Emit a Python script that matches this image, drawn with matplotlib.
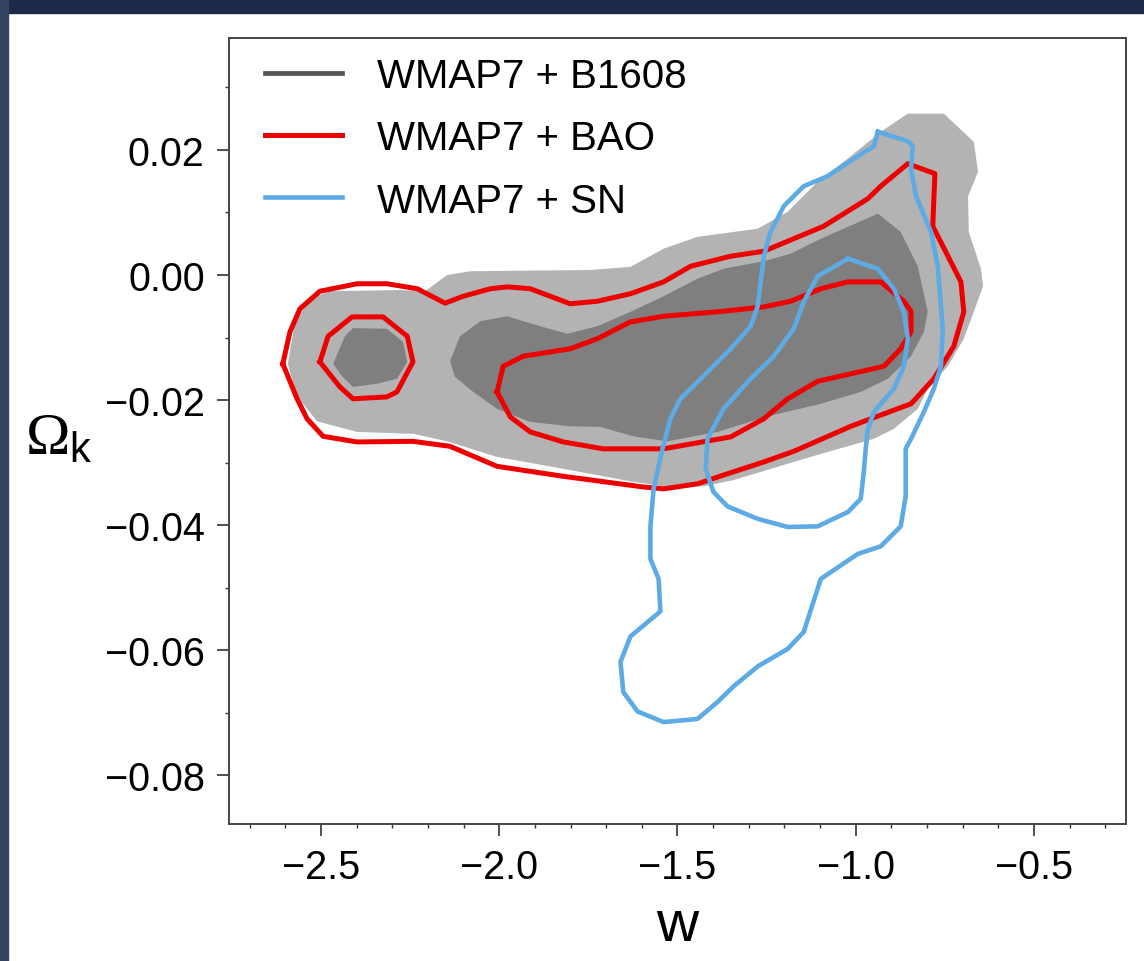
import numpy as np
import matplotlib.pyplot as plt
from matplotlib.patches import Rectangle

plt.rcParams['font.family'] = ['Liberation Sans', 'DejaVu Sans']
plt.rcParams['mathtext.fontset'] = 'custom'
plt.rcParams['mathtext.rm'] = 'Liberation Serif'
plt.rcParams['mathtext.sf'] = 'Liberation Sans'
plt.rcParams['mathtext.it'] = 'Liberation Serif:italic'

# WMAP7 + B1608, 95% region (light grey)
b1608_95_w = [-2.593, -2.573, -2.531, -2.475, -2.278, -2.208, -2.146, -2.081, -1.744, -1.632,
              -1.539, -1.444, -1.275, -1.191, -1.107, -1.014, -0.930, -0.854, -0.753, -0.669,
              -0.657, -0.685, -0.683, -0.649, -0.643, -0.669, -0.697, -0.742, -0.798, -0.826,
              -0.893, -0.949, -1.079, -1.174, -1.267, -1.343, -1.427, -1.539, -1.632, -1.820,
              -2.006, -2.146, -2.242, -2.399, -2.511, -2.567]
b1608_95_ok = [-0.0142, -0.0075, -0.0038, -0.0026, -0.0024, -0.0026, 0.0000, 0.0006, 0.0008, 0.0013,
               0.0042, 0.0061, 0.0074, 0.0101, 0.0149, 0.0190, 0.0229, 0.0258, 0.0258, 0.0213,
               0.0165, 0.0126, 0.0069, 0.0010, -0.0018, -0.0059, -0.0102, -0.0146, -0.0182, -0.0214,
               -0.0246, -0.0262, -0.0283, -0.0299, -0.0315, -0.0328, -0.0338, -0.0338, -0.0330, -0.0310,
               -0.0291, -0.0266, -0.0254, -0.0251, -0.0234, -0.0194]

# WMAP7 + B1608, 68% region (dark grey), main lobe and small left lobe
b1608_68_w = [-2.138, -2.110, -2.053, -1.978, -1.885, -1.809, -1.725, -1.632, -1.539, -1.444,
              -1.371, -1.258, -1.183, -1.098, -0.938, -0.874, -0.826, -0.798, -0.809, -0.845,
              -0.910, -0.986, -1.098, -1.247, -1.388, -1.528, -1.624, -1.716, -1.801, -1.913,
              -2.006, -2.073, -2.124]
b1608_68_ok = [-0.0138, -0.0098, -0.0074, -0.0066, -0.0082, -0.0094, -0.0082, -0.0059, -0.0034, -0.0006,
               0.0010, 0.0022, 0.0034, 0.0058, 0.0098, 0.0069, 0.0014, -0.0059, -0.0091, -0.0130,
               -0.0166, -0.0187, -0.0206, -0.0226, -0.0251, -0.0266, -0.0258, -0.0243, -0.0242, -0.0235,
               -0.0214, -0.0187, -0.0163]
b1608_68b_w = [-2.466, -2.433, -2.410, -2.315, -2.270, -2.258, -2.287, -2.343, -2.410, -2.441]
b1608_68b_ok = [-0.0142, -0.0098, -0.0085, -0.0086, -0.0107, -0.0139, -0.0166, -0.0174, -0.0179, -0.0162]

# WMAP7 + BAO contours (red)
bao_95_w = [-2.607, -2.587, -2.559, -2.503, -2.399, -2.315, -2.230, -2.152, -2.101, -2.025,
            -1.978, -1.913, -1.801, -1.725, -1.632, -1.539, -1.463, -1.351, -1.258, -1.174,
            -1.090, -0.966, -0.930, -0.854, -0.778, -0.784, -0.705, -0.697, -0.725, -0.781,
            -0.845, -0.958, -1.014, -1.174, -1.258, -1.371, -1.444, -1.539, -1.596, -1.820,
            -2.006, -2.138, -2.242, -2.399, -2.494, -2.539, -2.567]
bao_95_ok = [-0.0142, -0.0091, -0.0054, -0.0026, -0.0014, -0.0014, -0.0022, -0.0045, -0.0034, -0.0022,
             -0.0019, -0.0022, -0.0046, -0.0042, -0.0030, -0.0011, 0.0014, 0.0030, 0.0038, 0.0058,
             0.0078, 0.0122, 0.0142, 0.0178, 0.0162, 0.0078, -0.0011, -0.0059, -0.0114, -0.0166,
             -0.0206, -0.0230, -0.0242, -0.0282, -0.0299, -0.0320, -0.0334, -0.0342, -0.0339, -0.0322,
             -0.0306, -0.0274, -0.0266, -0.0267, -0.0258, -0.0230, -0.0198]
bao_68_w = [-2.006, -1.989, -1.933, -1.801, -1.725, -1.632, -1.539, -1.371, -1.258, -1.183,
            -1.098, -1.022, -0.930, -0.865, -0.845, -0.845, -0.874, -0.921, -1.107, -1.191,
            -1.258, -1.351, -1.539, -1.708, -1.820, -1.913, -1.969]
bao_68_ok = [-0.0187, -0.0146, -0.0130, -0.0118, -0.0102, -0.0075, -0.0066, -0.0058, -0.0051, -0.0042,
             -0.0022, -0.0011, -0.0011, -0.0042, -0.0058, -0.0091, -0.0118, -0.0146, -0.0170, -0.0198,
             -0.0230, -0.0259, -0.0278, -0.0278, -0.0267, -0.0251, -0.0227]
bao_68b_w = [-2.503, -2.480, -2.413, -2.326, -2.258, -2.242, -2.287, -2.315, -2.410, -2.447]
bao_68b_ok = [-0.0139, -0.0098, -0.0067, -0.0067, -0.0098, -0.0139, -0.0187, -0.0195, -0.0198, -0.0179]

# WMAP7 + SN contours (blue)
sn_95_w = [-0.938, -0.854, -0.840, -0.845, -0.831, -0.789, -0.770, -0.756, -0.761, -0.781,
           -0.809, -0.845, -0.860, -0.860, -0.874, -0.930, -0.994, -1.098, -1.146, -1.191,
           -1.275, -1.343, -1.388, -1.444, -1.539, -1.612, -1.652, -1.660, -1.632, -1.548,
           -1.553, -1.576, -1.576, -1.567, -1.542, -1.520, -1.492, -1.444, -1.351, -1.295,
           -1.275, -1.258, -1.239, -1.202, -1.146, -1.079, -0.994, -0.949]
sn_95_ok = [0.0229, 0.0214, 0.0206, 0.0170, 0.0126, 0.0069, 0.0014, -0.0086, -0.0146, -0.0182,
            -0.0219, -0.0262, -0.0278, -0.0354, -0.0402, -0.0434, -0.0446, -0.0486, -0.0571, -0.0598,
            -0.0626, -0.0658, -0.0683, -0.0710, -0.0715, -0.0698, -0.0667, -0.0619, -0.0578, -0.0538,
            -0.0486, -0.0454, -0.0402, -0.0342, -0.0278, -0.0230, -0.0198, -0.0171, -0.0118, -0.0082,
            -0.0050, 0.0030, 0.0069, 0.0110, 0.0142, 0.0158, 0.0190, 0.0206]
sn_68_w = [-1.022, -0.938, -0.893, -0.865, -0.854, -0.865, -0.893, -0.949, -0.966, -0.972,
           -0.978, -0.986, -1.022, -1.107, -1.191, -1.275, -1.360, -1.399, -1.421, -1.416,
           -1.371, -1.295, -1.230, -1.174, -1.146, -1.107]
sn_68_ok = [0.0026, 0.0010, -0.0022, -0.0059, -0.0102, -0.0146, -0.0182, -0.0219, -0.0246, -0.0278,
            -0.0318, -0.0358, -0.0379, -0.0402, -0.0403, -0.0390, -0.0370, -0.0347, -0.0310, -0.0262,
            -0.0214, -0.0166, -0.0130, -0.0086, -0.0043, -0.0002]

labels = ['WMAP7 + B1608', 'WMAP7 + BAO', 'WMAP7 + SN']
grey_light, grey_dark = '#b3b3b3', '#7f7f7f'
red, blue = '#ee0000', '#5eaae4'


def closed(w, ok):
    return list(w) + [w[0]], list(ok) + [ok[0]]


fig = plt.figure(figsize=(11.44, 9.62), dpi=100)
# dark frame along top and left edges of the slide
fig.patches.append(Rectangle((0, 1 - 14 / 962), 1, 14 / 962, transform=fig.transFigure,
                             color='#1d2a47', zorder=0))
fig.patches.append(Rectangle((0, 0), 8 / 1144, 1, transform=fig.transFigure,
                             color='#34435f', zorder=0))

ax = fig.add_axes([229 / 1144, 1 - 825 / 962, 897 / 1144, 786 / 962])

ax.fill(b1608_95_w, b1608_95_ok, color=grey_light, lw=0)
ax.fill(b1608_68_w, b1608_68_ok, color=grey_dark, lw=0)
ax.fill(b1608_68b_w, b1608_68b_ok, color=grey_dark, lw=0)
ax.plot([], [], color='#555555', lw=3.4, label=labels[0])

for i, (w, ok) in enumerate([(bao_95_w, bao_95_ok), (bao_68_w, bao_68_ok), (bao_68b_w, bao_68b_ok)]):
    cw, cok = closed(w, ok)
    ax.plot(cw, cok, color=red, lw=3.6, label=labels[1] if i == 0 else None)

for i, (w, ok) in enumerate([(sn_95_w, sn_95_ok), (sn_68_w, sn_68_ok)]):
    cw, cok = closed(w, ok)
    ax.plot(cw, cok, color=blue, lw=3.3, label=labels[2] if i == 0 else None)

ax.set_xlim(-2.758, -0.242)
ax.set_ylim(-0.0878, 0.0379)
ax.set_xticks([-2.5, -2.0, -1.5, -1.0, -0.5])
ax.set_xticklabels(['\u22122.5', '\u22122.0', '\u22121.5', '\u22121.0', '\u22120.5'])
ax.set_xticks(np.arange(-2.7, -0.25, 0.1), minor=True)
ax.set_yticks([-0.08, -0.06, -0.04, -0.02, 0.0, 0.02])
ax.set_yticklabels(['\u22120.08', '\u22120.06', '\u22120.04', '\u22120.02', '0.00', '0.02'])
ax.set_yticks(np.arange(-0.08, 0.035, 0.01), minor=True)
ax.tick_params(which='major', direction='out', length=8.5, width=1.2, pad=9,
               labelsize=28.5, color='#333333')
ax.tick_params(which='minor', direction='out', length=3, width=1.0, color='#333333')
for s in ax.spines.values():
    s.set_color('#444444')
    s.set_linewidth(1.4)

ax.set_xlabel('w', fontsize=42, va='center')
ax.xaxis.set_label_coords(0.5, -0.1285)
ax.set_ylabel(r'$\Omega_{\mathsf{k}}$', fontsize=43, rotation=0, ha='center', va='center')
ax.yaxis.set_label_coords(-0.19, 0.49)

ax.legend(loc='upper left', bbox_to_anchor=(0.0223, 0.996), frameon=False, fontsize=29,
          handlelength=1.9, handletextpad=0.87, labelspacing=0.6, borderaxespad=0)

fig.savefig('out.png', dpi=100)
